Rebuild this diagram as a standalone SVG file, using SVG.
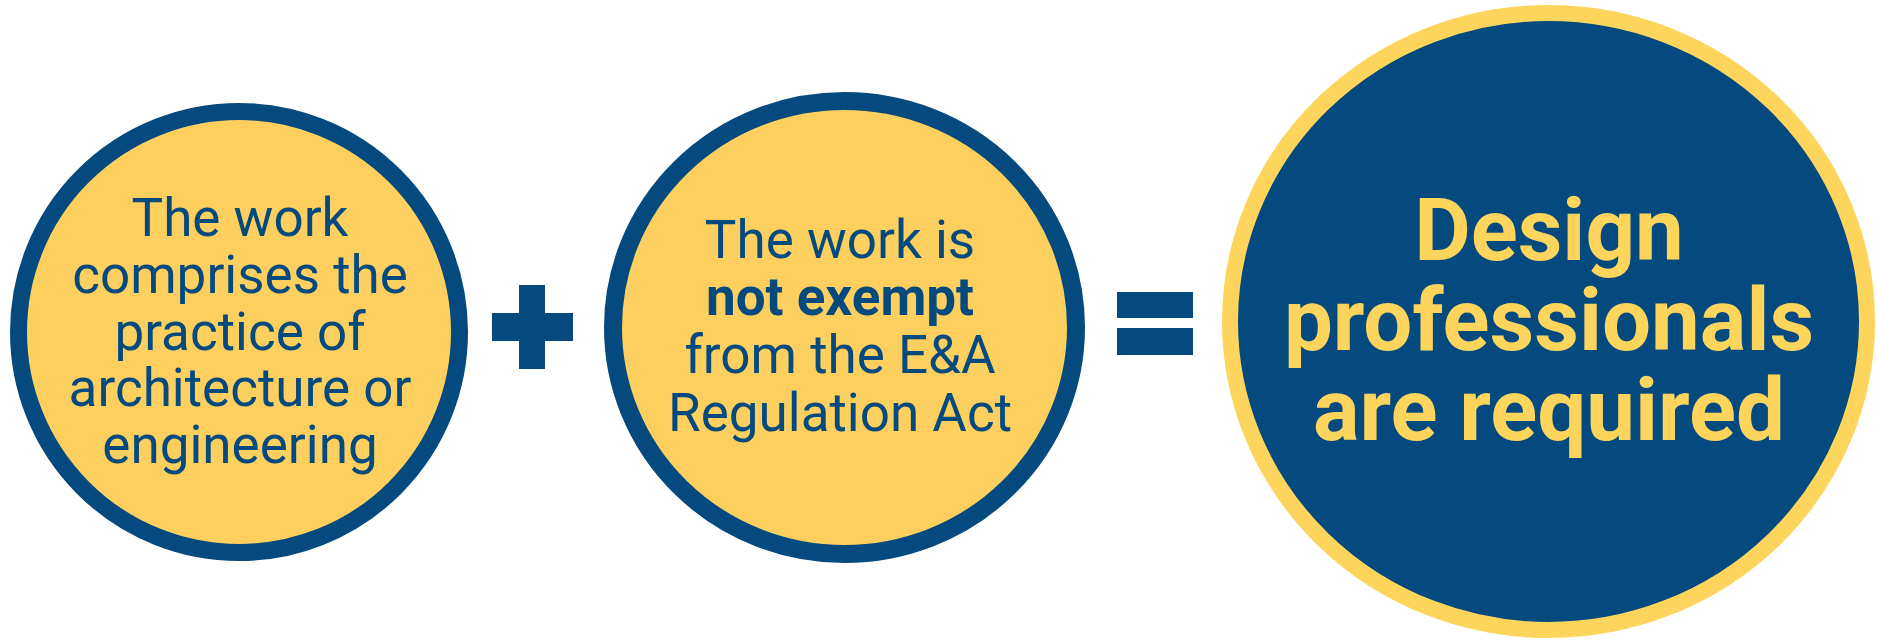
<svg xmlns="http://www.w3.org/2000/svg" width="1877" height="641" viewBox="0 0 1877 641">
<style>
.ring{fill:#fdcf5e;stroke:#044a7e}
.big{fill:#044a7e;stroke:#fdd55c}
.t{font-family:Roboto,"Liberation Sans",sans-serif;fill:#044a7e;font-size:53px;text-anchor:middle}
.b{font-weight:bold}
.tb{font-family:Roboto,"Liberation Sans",sans-serif;fill:#fdd55c;font-size:87px;font-weight:bold;text-anchor:middle}
.op{fill:#044a7e}
</style>
<rect width="1877" height="641" fill="#ffffff"/>
<g id="node-practice">
<circle class="ring" cx="239" cy="332" r="220.5" stroke-width="17"/>
<text class="t" x="240" y="236">The work</text>
<text class="t" x="240" y="293">comprises the</text>
<text class="t" x="240" y="350">practice of</text>
<text class="t" x="240" y="406">architecture or</text>
<text class="t" x="240" y="463">engineering</text>
</g>
<g id="node-exempt">
<ellipse class="ring" cx="844.5" cy="327.5" rx="231.5" ry="226.5" stroke-width="18"/>
<text class="t" x="840" y="258">The work is</text>
<text class="t b" x="840" y="315">not exempt</text>
<text class="t" x="840" y="373">from the E&amp;A</text>
<text class="t" x="840" y="431">Regulation Act</text>
</g>
<g id="node-result">
<ellipse class="big" cx="1548.5" cy="321.5" rx="318.5" ry="308.5" stroke-width="16"/>
<text class="tb" x="1549" y="260">Design</text>
<text class="tb" x="1549" y="350">professionals</text>
<text class="tb" x="1549" y="440">are required</text>
</g>
<g id="connectors">
<g id="plus">
<rect class="op" x="519" y="285" width="26" height="84"/>
<rect class="op" x="492" y="313" width="81" height="28"/>
</g>
<g id="equals">
<rect class="op" x="1117" y="292" width="76" height="26"/>
<rect class="op" x="1117" y="328" width="76" height="27"/>
</g>
</g>
</svg>
